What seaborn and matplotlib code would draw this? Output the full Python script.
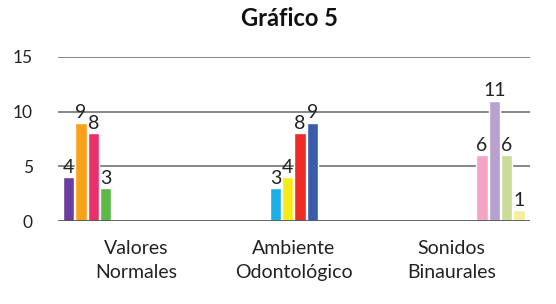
import matplotlib
matplotlib.use("Agg")
import matplotlib.pyplot as plt
import seaborn as sns
import pandas as pd
import numpy as np

categories = ["Valores\nNormales", "Ambiente\nOdontológico", "Sonidos\nBinaurales"]
series = ["s1", "s2", "s3", "s4", "s5", "s6", "s7", "s8", "s9", "s10", "s11", "s12"]
series_category = [0, 0, 0, 0, 1, 1, 1, 1, 2, 2, 2, 2]
values = [4, 9, 8, 3, 3, 4, 8, 9, 6, 11, 6, 1]
colors = ["#6A3E9E", "#F9A11B", "#E8306A", "#5CB946", "#1CB0E6", "#F7EB17",
          "#EE2B24", "#3B5CAA", "#F2A5C7", "#B8A0CF", "#C9DD98", "#F6EE9C"]
title = "Gráfico 5"

rows = []
for s, c, v in zip(series, series_category, values):
    rows.append({"cat": categories[c], "series": s, "value": v})
df = pd.DataFrame(rows)

sns.set_style("white")
plt.rcParams["font.family"] = ["Lato", "DejaVu Sans"]

fig = plt.figure(figsize=(5.56, 3.04), dpi=100)
ax = fig.add_axes([0.104, 0.273, 0.849, 0.54])

sns.barplot(data=df, x="cat", y="value", hue="series", order=categories,
            hue_order=series, palette=dict(zip(series, colors)),
            width=0.94, gap=0.1, dodge=True, legend=False, ax=ax,
            saturation=1, errorbar=None)

for cont in ax.containers:
    ax.bar_label(cont, fmt="%g", padding=1, fontsize=14, color="#222222")

ax.set_ylim(0, 15)
ax.set_xlim(-0.5, 2.5)
ax.set_yticks([0, 5, 10, 15])
for y in [5, 10, 15]:
    ax.axhline(y, color="#666666", lw=1.1, zorder=0)
ax.axhline(0, color="#555555", lw=2.0, zorder=3)
for s in ax.spines.values():
    s.set_visible(False)
ax.tick_params(axis="y", length=0, pad=18, labelsize=12.5, labelcolor="#222222")
ax.tick_params(axis="x", length=0, pad=14, labelsize=14, labelcolor="#222222")
for lbl in ax.get_xticklabels():
    lbl.set_linespacing(1.5)
ax.set_xlabel("")
ax.set_ylabel("")
fig.text(0.52, 0.94, title, ha="center", va="center", fontsize=17, fontweight="bold", color="#111111")

fig.savefig("out.png", dpi=100)
